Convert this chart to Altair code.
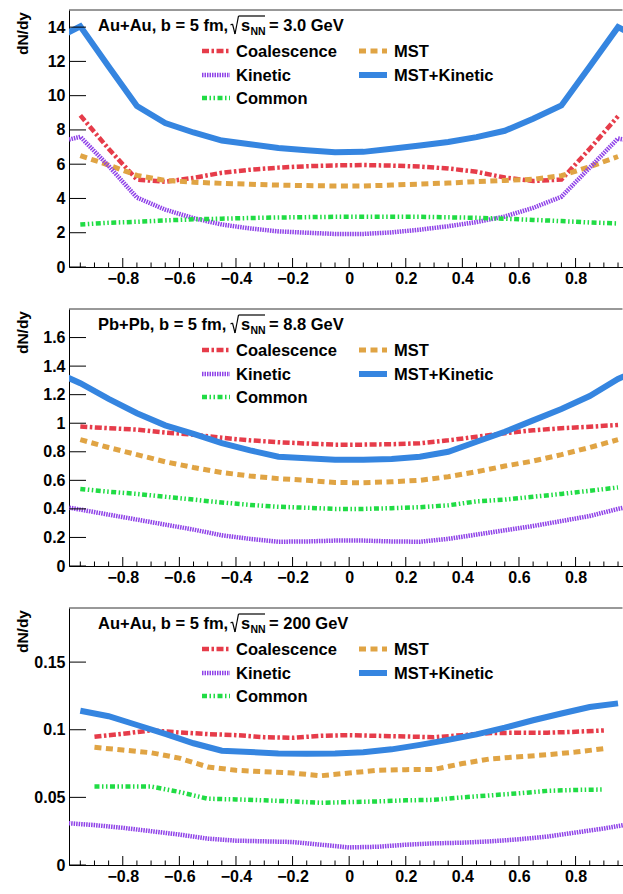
import altair as alt
import pandas as pd

# ---------------- data ----------------
X_BINS = [-0.95, -0.85, -0.75, -0.65, -0.55, -0.45, -0.35, -0.25, -0.15, -0.05,
          0.05, 0.15, 0.25, 0.35, 0.45, 0.55, 0.65, 0.75, 0.85, 0.95]
X_BINS_EXT = [-1.05, -0.95, -0.85, -0.75, -0.65, -0.55, -0.45, -0.35, -0.25, -0.15, -0.05,
              0.05, 0.15, 0.25, 0.35, 0.45, 0.55, 0.65, 0.75, 0.85, 0.95, 1.05]
X_STEP = [-0.9, -0.8, -0.7, -0.6, -0.5, -0.4, -0.3, -0.2, -0.1, 0.0,
          0.1, 0.2, 0.3, 0.4, 0.5, 0.6, 0.7, 0.8, 0.9]
X_STEP_EXT = [-1.0, -0.9, -0.8, -0.7, -0.6, -0.5, -0.4, -0.3, -0.2, -0.1, 0.0,
              0.1, 0.2, 0.3, 0.4, 0.5, 0.6, 0.7, 0.8, 0.9, 1.0]

# Au+Au 3.0 GeV
COAL_30 = [8.85, 6.9, 5.1, 4.98, 5.2, 5.5, 5.68, 5.8, 5.88, 5.93,
           5.95, 5.92, 5.86, 5.75, 5.56, 5.22, 5.02, 5.1, 6.9, 8.8]
MST_30 = [6.5, 5.95, 5.35, 5.05, 4.95, 4.88, 4.83, 4.78, 4.75, 4.73,
          4.73, 4.78, 4.84, 4.9, 4.98, 5.05, 5.12, 5.33, 5.85, 6.45]
KIN_30 = [7.2, 7.6, 5.9, 4.05, 3.35, 2.85, 2.48, 2.25, 2.08, 2.0, 1.93,
          1.93, 2.02, 2.18, 2.38, 2.62, 2.95, 3.45, 4.1, 5.8, 7.5, 7.2]
MK_30 = [13.2, 14.05, 11.7, 9.4, 8.4, 7.85, 7.38, 7.17, 6.95, 6.82, 6.7,
         6.72, 6.9, 7.09, 7.3, 7.58, 7.95, 8.65, 9.43, 11.7, 14.0, 13.2]
COMM_30 = [2.48, 2.58, 2.64, 2.72, 2.78, 2.82, 2.86, 2.89, 2.91, 2.93,
           2.93, 2.93, 2.93, 2.9, 2.87, 2.82, 2.75, 2.68, 2.6, 2.54]

# Pb+Pb 8.8 GeV
COAL_88 = [0.977, 0.965, 0.955, 0.935, 0.92, 0.898, 0.88, 0.867, 0.858, 0.85,
           0.85, 0.853, 0.86, 0.88, 0.905, 0.93, 0.95, 0.965, 0.975, 0.988]
MST_88 = [0.885, 0.83, 0.78, 0.73, 0.69, 0.655, 0.63, 0.612, 0.6, 0.585,
          0.583, 0.59, 0.6, 0.625, 0.66, 0.7, 0.735, 0.78, 0.83, 0.885]
KIN_88 = [0.43, 0.395, 0.36, 0.325, 0.29, 0.255, 0.215, 0.19, 0.17, 0.172, 0.178,
          0.178, 0.172, 0.17, 0.19, 0.22, 0.25, 0.28, 0.315, 0.35, 0.4, 0.44]
MK_88 = [1.37, 1.28, 1.17, 1.07, 0.985, 0.925, 0.86, 0.81, 0.765, 0.755, 0.745,
         0.745, 0.75, 0.765, 0.8, 0.87, 0.94, 1.02, 1.1, 1.19, 1.31, 1.4]
COMM_88 = [0.54, 0.52, 0.505, 0.485, 0.465, 0.445, 0.428, 0.415, 0.408, 0.4,
           0.4, 0.405, 0.412, 0.425, 0.452, 0.465, 0.485, 0.505, 0.527, 0.55]

# Au+Au 200 GeV
COAL_200 = [0.0948, 0.097, 0.0995, 0.098, 0.0968, 0.096, 0.0945, 0.094, 0.0955, 0.096,
            0.0955, 0.095, 0.0945, 0.096, 0.0975, 0.0978, 0.0978, 0.0985, 0.0995]
MST_200 = [0.087, 0.085, 0.083, 0.079, 0.0725, 0.07, 0.069, 0.068, 0.066, 0.068,
           0.07, 0.0705, 0.0707, 0.075, 0.0785, 0.08, 0.0815, 0.0835, 0.086]
KIN_200 = [0.031, 0.0295, 0.0275, 0.025, 0.0225, 0.0195, 0.018, 0.0175, 0.017, 0.015, 0.013,
           0.0135, 0.015, 0.016, 0.0165, 0.0175, 0.019, 0.021, 0.024, 0.027, 0.0305]
MK_200 = [0.114, 0.11, 0.1035, 0.097, 0.09, 0.0845, 0.0835, 0.0825, 0.0823, 0.0825,
          0.0833, 0.0855, 0.0888, 0.0925, 0.0966, 0.1015, 0.107, 0.112, 0.1168, 0.1195]
COMM_200 = [0.058, 0.058, 0.058, 0.054, 0.049, 0.0485, 0.0478, 0.047, 0.046, 0.0465,
            0.047, 0.0478, 0.0482, 0.05, 0.0515, 0.053, 0.0548, 0.0555, 0.0558]

SERIES = ["Coalescence", "MST", "Kinetic", "MST+Kinetic", "Common"]

X_MAJOR = [-0.8, -0.6, -0.4, -0.2, 0.0, 0.2, 0.4, 0.6, 0.8]
X_MINOR = [-0.95, -0.9, -0.85, -0.75, -0.7, -0.65, -0.55, -0.5, -0.45, -0.35, -0.3, -0.25,
           -0.15, -0.1, -0.05, 0.05, 0.1, 0.15, 0.25, 0.3, 0.35, 0.45, 0.5, 0.55,
           0.65, 0.7, 0.75, 0.85, 0.9, 0.95]
Y_TICKS_30 = [0, 2, 4, 6, 8, 10, 12, 14]
Y_TICKS_88 = [0, 0.2, 0.4, 0.6, 0.8, 1.0, 1.2, 1.4, 1.6]
Y_TICKS_200 = [0, 0.05, 0.1, 0.15]

# ---------------- style ----------------
W = 554
H = 257
FONT = "Liberation Sans"
X_DOMAIN = [-0.99, 0.9676]

STYLE = {
    "Coalescence": dict(color="#e63c4a", strokeDash=[7, 2.5, 2.5, 2.5], strokeWidth=4.5),
    "MST": dict(color="#e0a444", strokeDash=[7, 4.5], strokeWidth=5),
    "Kinetic": dict(color="#8f42e8", strokeDash=[1.5, 1], strokeWidth=4.5),
    "MST+Kinetic": dict(color="#3585e0", strokeWidth=6),
    "Common": dict(color="#20dc44", strokeDash=[5, 2.5, 1.5, 2.5, 1.5, 2.5], strokeWidth=4.5),
}

LEGEND_POS = {
    "Coalescence": (133, 41, 167),
    "Kinetic": (133, 65, 167),
    "Common": (133, 88, 167),
    "MST": (290, 41, 325),
    "MST+Kinetic": (290, 65, 325),
}


def text_layer(txt, x, y, size=16.5, align="left", baseline="alphabetic", angle=0, weight="bold"):
    return alt.Chart(pd.DataFrame({"t": [txt]})).mark_text(
        align=align, baseline=baseline, font=FONT, fontSize=size,
        fontWeight=weight, angle=angle, color="black"
    ).encode(x=alt.value(x), y=alt.value(y), text="t:N")


def seg(x1, y1, x2, y2, color="black", width=1.2, dash=None):
    kw = dict(color=color, strokeWidth=width)
    if dash:
        kw["strokeDash"] = dash
    return alt.Chart(pd.DataFrame({"k": [0]})).mark_rule(**kw).encode(
        x=alt.value(x1), x2=alt.value(x2), y=alt.value(y1), y2=alt.value(y2))


def panel(data, y_max, y_ticks, system, energy, first=False, last=False):
    xs = alt.Scale(domain=X_DOMAIN, nice=False, zero=False)
    ys = alt.Scale(domain=[0, y_max], nice=False, zero=False)
    x_axis = alt.Axis(values=X_MAJOR, format="~g", title=None, labelPadding=3,
                      labelFlush=False, labelOverlap=False)
    y_axis = alt.Axis(values=y_ticks, format="~g", title=None, labelPadding=4,
                      labelOverlap=False, labelFlush=False)
    layers = []
    # invisible layout anchors (fix the outer page margins)
    if first:
        layers.append(seg(-68, -9, -67.5, -9, color="white", width=0.1))
    if last:
        layers.append(seg(-68, H + 29.5, -67.5, H + 29.5, color="white", width=0.1))
    # top frame
    layers.append(seg(0, 0, W - 0.5, 0, color="#333333", width=1))
    for name in SERIES:
        xv, yv = data[name]
        df = pd.DataFrame({"x": xv, "y": yv})
        layers.append(alt.Chart(df).mark_line(clip=True, **STYLE[name]).encode(
            x=alt.X("x:Q", scale=xs, axis=x_axis),
            y=alt.Y("y:Q", scale=ys, axis=y_axis)))
    # inward ticks
    layers.append(alt.Chart(pd.DataFrame({"x": X_MAJOR})).mark_rule(color="black", strokeWidth=1).encode(
        x=alt.X("x:Q", scale=xs, axis=x_axis), y=alt.value(H), y2=alt.value(H - 9)))
    layers.append(alt.Chart(pd.DataFrame({"x": X_MINOR})).mark_rule(color="black", strokeWidth=1).encode(
        x=alt.X("x:Q", scale=xs, axis=x_axis), y=alt.value(H), y2=alt.value(H - 4.5)))
    layers.append(alt.Chart(pd.DataFrame({"y": y_ticks})).mark_rule(color="black", strokeWidth=1).encode(
        y=alt.Y("y:Q", scale=ys, axis=y_axis), x=alt.value(0), x2=alt.value(17)))
    # legend
    for name in SERIES:
        sx, sy, tx = LEGEND_POS[name]
        st = STYLE[name]
        layers.append(seg(sx, sy, sx + 28, sy, color=st["color"], width=st["strokeWidth"],
                          dash=st.get("strokeDash")))
        layers.append(text_layer(name, tx, sy + 6))
    # header text with sqrt(s_NN)
    layers.append(text_layer(system + ", b = 5 fm,", 29, 21))
    layers.append(seg(161.5, 15, 163.5, 14))
    layers.append(seg(163.5, 14, 166, 24))
    layers.append(seg(166, 24, 169.5, 6))
    layers.append(seg(169.5, 6, 196, 6))
    layers.append(text_layer("s", 172, 21))
    layers.append(text_layer("NN", 181.5, 24.5, size=10.5))
    layers.append(text_layer("= " + energy + " GeV", 200, 21))
    # axis title
    layers.append(text_layer("dN/dy", -46.5, 2, size=15.5, align="right", baseline="middle", angle=270))
    return alt.layer(*layers).properties(width=W, height=H)


p1 = panel({"Coalescence": (X_BINS, COAL_30), "MST": (X_BINS, MST_30),
            "Kinetic": (X_BINS_EXT, KIN_30), "MST+Kinetic": (X_BINS_EXT, MK_30),
            "Common": (X_BINS, COMM_30)}, 15.0, Y_TICKS_30, "Au+Au", "3.0", first=True)
p2 = panel({"Coalescence": (X_BINS, COAL_88), "MST": (X_BINS, MST_88),
            "Kinetic": (X_BINS_EXT, KIN_88), "MST+Kinetic": (X_BINS_EXT, MK_88),
            "Common": (X_BINS, COMM_88)}, 1.8, Y_TICKS_88, "Pb+Pb", "8.8")
p3 = panel({"Coalescence": (X_STEP, COAL_200), "MST": (X_STEP, MST_200),
            "Kinetic": (X_STEP_EXT, KIN_200), "MST+Kinetic": (X_BINS, MK_200),
            "Common": (X_STEP, COMM_200)}, 0.19, Y_TICKS_200, "Au+Au", "200", last=True)

chart = alt.vconcat(p1, p2, p3, spacing=42, bounds="flush").properties(
    padding=0,
    background="white",
).configure_view(stroke=None).configure_axis(
    labelFont=FONT, labelFontSize=16, labelFontWeight="bold", labelColor="black",
    domainColor="black", domainWidth=1, grid=False, ticks=False, tickSize=0,
)

chart.save("out.html", embed_options={"renderer": "svg", "actions": False})
